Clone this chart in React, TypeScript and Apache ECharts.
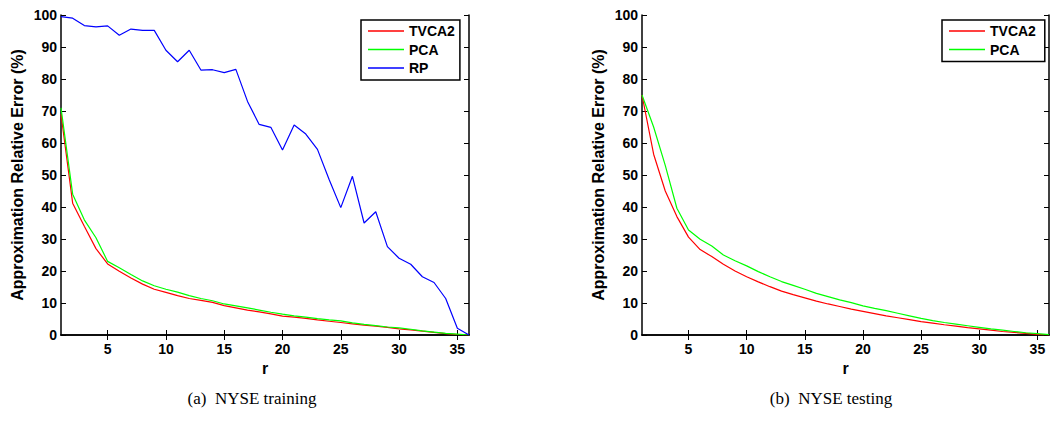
import React, { useEffect, useRef } from "react";
import * as echarts from "echarts";

const rValues = [1, 2, 3, 4, 5, 6, 7, 8, 9, 10, 11, 12, 13, 14, 15, 16, 17, 18, 19, 20, 21, 22, 23, 24, 25, 26, 27, 28, 29, 30, 31, 32, 33, 34, 35, 36];
const xTicks = [5, 10, 15, 20, 25, 30, 35];

const trainTVCA2 = [69, 41.2, 34, 27, 22.2, 19.9, 17.8, 15.9, 14.3, 13.3, 12.3, 11.4, 10.8, 10.2, 9.2, 8.5, 7.8, 7.2, 6.6, 5.9, 5.6, 5.2, 4.7, 4.3, 3.9, 3.5, 3.1, 2.8, 2.4, 1.9, 1.6, 1.2, 0.8, 0.45, 0.15, 0];
const trainPCA = [71, 44, 36, 30.4, 23, 21, 18.9, 16.9, 15.4, 14.3, 13.4, 12.3, 11.4, 10.7, 9.7, 9.1, 8.5, 7.8, 7.1, 6.5, 6.0, 5.6, 5.1, 4.7, 4.4, 3.8, 3.3, 2.9, 2.5, 2.2, 1.8, 1.3, 0.9, 0.5, 0.25, 0];
const trainRP = [99.5, 99, 96.7, 96.3, 96.6, 93.7, 95.6, 95.2, 95.2, 89, 85.4, 89, 82.8, 82.9, 82, 83, 73, 65.8, 64.9, 57.8, 65.6, 62.8, 58, 48.6, 39.8, 49.6, 35, 38.5, 27.6, 24, 22.1, 18.2, 16.4, 11.4, 2.1, 0];

const testTVCA2 = [75, 56.5, 45, 37, 30.6, 26.7, 24.5, 22.1, 20, 18.2, 16.6, 15.1, 13.7, 12.6, 11.6, 10.6, 9.7, 8.9, 8.1, 7.4, 6.7, 6.0, 5.4, 4.8, 4.2, 3.7, 3.2, 2.8, 2.3, 1.9, 1.5, 1.1, 0.8, 0.5, 0.2, 0];
const testPCA = [75, 65, 53, 39.6, 32.8, 29.9, 27.8, 25, 23.2, 21.6, 19.8, 18.2, 16.7, 15.5, 14.3, 13, 12, 11, 10.1, 9.1, 8.3, 7.6, 6.8, 6, 5.2, 4.5, 3.9, 3.4, 2.9, 2.4, 1.9, 1.5, 1.1, 0.7, 0.4, 0.1];

const yTitle = "Approximation Relative Error (%)";
const xTitle = "r";
const captions = ["(a)\u00a0\u00a0NYSE training", "(b)\u00a0\u00a0NYSE testing"];

const SANS = "'Liberation Sans', Arial, sans-serif";
const SERIF = "'Liberation Serif', 'Times New Roman', serif";

const pairs = (vals: number[]) => vals.map((v, i) => [rValues[i], v]);

export default function App() {
  const ref = useRef<HTMLDivElement>(null);
  useEffect(() => {
    if (!ref.current) return;
    const chart = echarts.init(ref.current, undefined, { renderer: "svg" });
    const grids = [
      { left: 61, top: 15, width: 408, height: 320 },
      { left: 642, top: 15, width: 407, height: 320 },
    ];
    const axisLine = { show: true, lineStyle: { color: "#000", width: 1.5 } };
    const labelStyle = { color: "#000", fontFamily: SANS, fontWeight: "bold" as const, fontSize: 14 };
    const xAxes: any[] = [];
    const yAxes: any[] = [];
    grids.forEach((_, g) => {
      xAxes.push({
        type: "value", gridIndex: g, min: 1, max: 36, position: "bottom",
        axisLine, splitLine: { show: false },
        axisTick: { show: true, inside: true, length: 5, customValues: xTicks, lineStyle: { color: "#000" } },
        axisLabel: { ...labelStyle, margin: 7, customValues: xTicks },
        name: xTitle, nameLocation: "middle", nameGap: 24,
        nameTextStyle: { color: "#000", fontFamily: SANS, fontWeight: "bold", fontSize: 16 },
      });
      xAxes.push({
        type: "value", gridIndex: g, min: 1, max: 36, position: "top",
        axisLine, splitLine: { show: false },
        axisTick: { show: true, inside: true, length: 5, customValues: xTicks, lineStyle: { color: "#000" } },
        axisLabel: { show: false },
      });
      yAxes.push({
        type: "value", gridIndex: g, min: 0, max: 100, interval: 10, position: "left",
        axisLine, splitLine: { show: false },
        axisTick: { show: true, inside: true, length: 5, lineStyle: { color: "#000" } },
        axisLabel: { ...labelStyle, margin: 4 },
        name: yTitle, nameLocation: "middle", nameGap: 36, nameRotate: 90,
        nameTextStyle: { color: "#000", fontFamily: SANS, fontWeight: "bold", fontSize: 16 },
      });
      yAxes.push({
        type: "value", gridIndex: g, min: 0, max: 100, interval: 10, position: "right",
        axisLine, splitLine: { show: false },
        axisTick: { show: true, inside: true, length: 5, lineStyle: { color: "#000" } },
        axisLabel: { show: false },
      });
    });
    const line = (name: string, vals: number[], color: string, g: number) => ({
      type: "line", name, data: pairs(vals), xAxisIndex: g * 2, yAxisIndex: g * 2,
      showSymbol: false, symbol: "none", lineStyle: { color, width: 1.2 }, itemStyle: { color },
    });
    const legendBase = {
      orient: "vertical", top: 20, icon: "rect", itemWidth: 36, itemHeight: 1.5, itemGap: 4.5,
      padding: [4, 5, 5, 7], borderColor: "#000", borderWidth: 1.5, backgroundColor: "#fff",
      textStyle: { color: "#000", fontFamily: SANS, fontWeight: "bold", fontSize: 14, padding: [0, 0, 0, 0] },
      itemStyle: { borderWidth: 0 },
    };
    chart.setOption({
      animation: false,
      backgroundColor: "#fff",
      grid: grids,
      xAxis: xAxes,
      yAxis: yAxes,
      legend: [
        { ...legendBase, left: 361, data: ["TVCA2", "PCA", "RP"] },
        { ...legendBase, left: 942, data: ["TVCA2 ", "PCA "] },
      ],
      series: [
        line("TVCA2", trainTVCA2, "#ff0000", 0),
        line("PCA", trainPCA, "#00ff00", 0),
        line("RP", trainRP, "#0000ff", 0),
        line("TVCA2 ", testTVCA2, "#ff0000", 1),
        line("PCA ", testPCA, "#00ff00", 1),
      ],
      graphic: [
        { type: "text", x: 252, y: 398, style: { text: captions[0], font: `17px ${SERIF}`, fill: "#000", textAlign: "center", textVerticalAlign: "middle" } },
        { type: "text", x: 831, y: 398, style: { text: captions[1], font: `17px ${SERIF}`, fill: "#000", textAlign: "center", textVerticalAlign: "middle" } },
      ],
    });
    return () => chart.dispose();
  }, []);
  return <div ref={ref} style={{ position: "fixed", left: 0, top: 0, width: 1050, height: 421, background: "#fff" }} />;
}
